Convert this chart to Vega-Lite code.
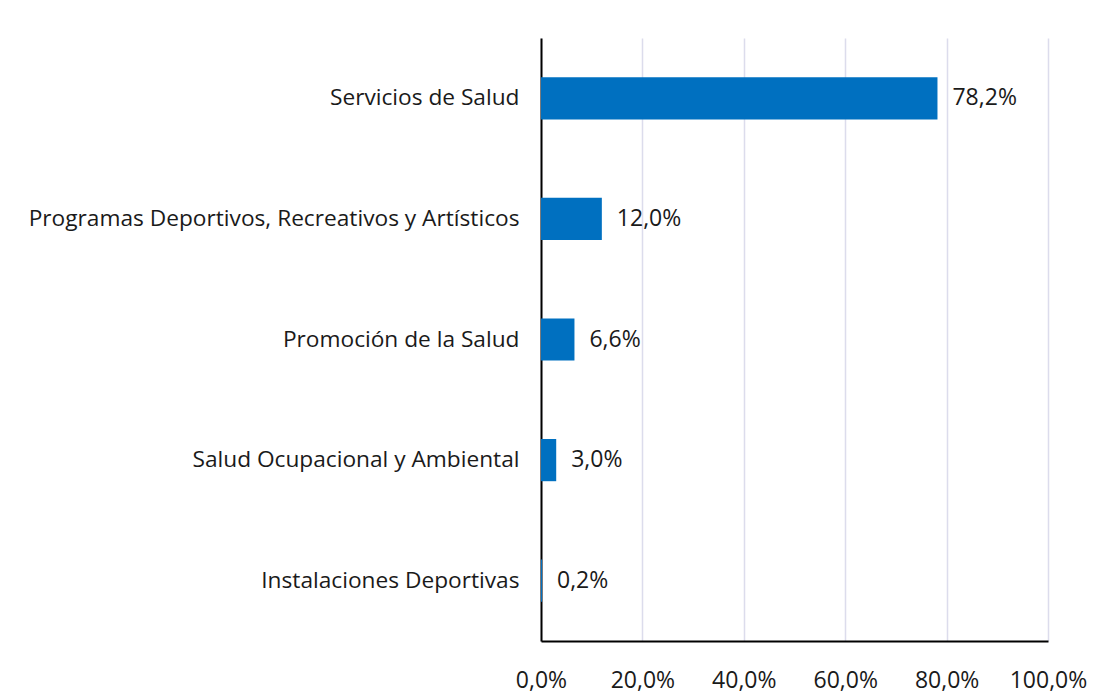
{
  "$schema": "https://vega.github.io/schema/vega-lite/v6.json",
  "autosize": {"type": "none"},
  "width": 507,
  "height": 603,
  "padding": {"left": 541, "top": 38, "right": 54, "bottom": 59},
  "background": "white",
  "data": {"values": [
    {"categoria": "Servicios de Salud", "valor": 0.782},
    {"categoria": "Programas Deportivos, Recreativos y Artísticos", "valor": 0.12},
    {"categoria": "Promoción de la Salud", "valor": 0.066},
    {"categoria": "Salud Ocupacional y Ambiental ", "valor": 0.03},
    {"categoria": "Instalaciones Deportivas", "valor": 0.002}
  ]},
  "encoding": {
    "y": {"field": "categoria", "type": "nominal", "sort": null,
      "scale": {"paddingInner": 0.65, "paddingOuter": 0.325},
      "axis": {"title": null, "ticks": false, "domain": true, "domainColor": "#000000", "domainWidth": 2,
        "labelFont": "Open Sans", "labelFontSize": 22.7, "labelColor": "#1a1a1a", "labelPadding": 22, "labelLimit": 600, "grid": false}},
    "x": {"field": "valor", "type": "quantitative",
      "scale": {"domain": [0, 1], "nice": false},
      "axis": {"title": null, "format": ".1%", "values": [0, 0.2, 0.4, 0.6, 0.8, 1], "labelOverlap": false, "labelFlush": false, "labelBound": false,
        "ticks": false, "domain": true, "domainColor": "#000000", "domainWidth": 2,
        "grid": true, "gridColor": "#dcdcec", "gridWidth": 1.5,
        "labelFont": "Open Sans", "labelFontSize": 23, "labelColor": "#1a1a1a", "labelPadding": 28}}
  },
  "layer": [
    {"mark": {"type": "bar", "color": "#0070C0"}},
    {"mark": {"type": "text", "align": "left", "baseline": "middle", "dx": 15, "font": "Open Sans", "fontSize": 23, "color": "#1a1a1a"},
     "encoding": {"text": {"field": "valor", "type": "quantitative", "format": ".1%"}}}
  ],
  "config": {
    "view": {"stroke": null},
    "locale": {"number": {"decimal": ",", "thousands": ".", "grouping": [3], "currency": ["", " €"]}}
  }
}
